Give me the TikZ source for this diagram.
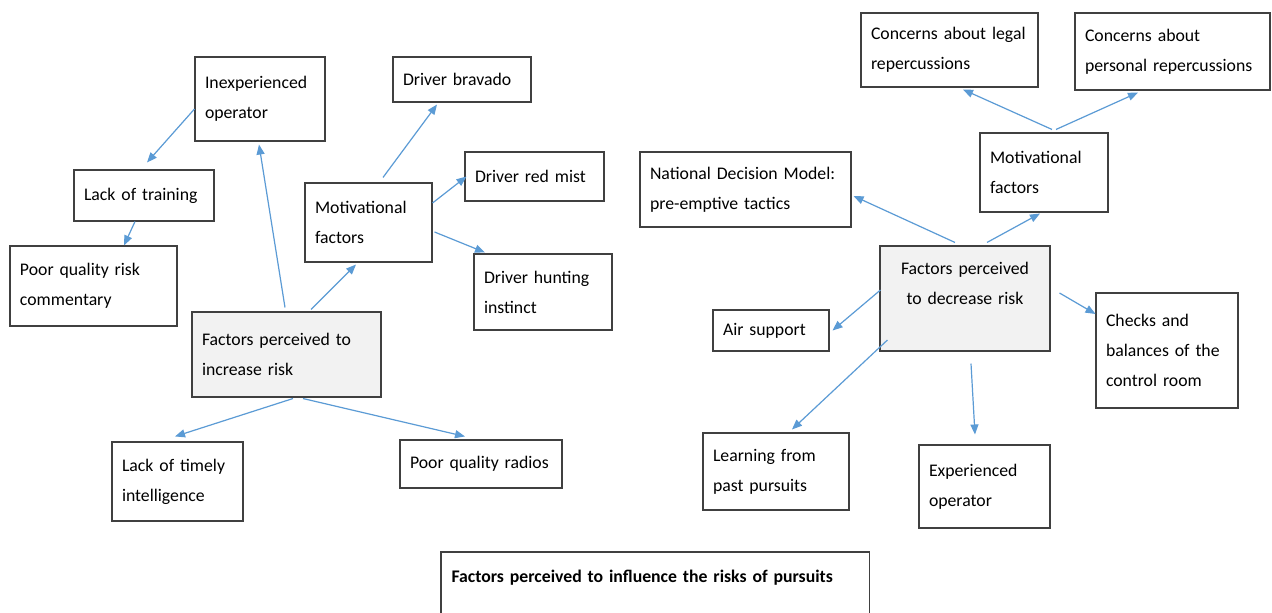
\documentclass[tikz,border=0pt]{standalone}
\usepackage{fontspec}
\setmainfont{Carlito}
\usepackage{tikz}
\usetikzlibrary{arrows.meta}
\definecolor{linkblue}{RGB}{91,155,213}
\definecolor{boxgray}{RGB}{242,242,242}
\definecolor{boxline}{RGB}{64,64,64}

\begin{document}
\begin{tikzpicture}[x=0.75pt, y=-0.75pt,
    box/.style={draw=boxline, line width=0.8pt, fill=white, inner xsep=7.5pt, inner ysep=0pt, align=left, font=\fontsize{13.3}{22.5}\selectfont},
    keybox/.style={box, fill=boxgray},
    link/.style={draw=linkblue, line width=0.9pt, -{Triangle[length=7.5pt,width=6pt]}}]
    \useasboundingbox (0,0) rectangle (1272,613);
    \clip (0,0) rectangle (1272,613);
    \fill[white] (0,0) rectangle (1272,613);

    % factors that increase risk
    \node[keybox, minimum width=141.75pt, minimum height=63.75pt, text width=126.75pt] (increase) at (286.5,354.5) {Factors perceived to\\increase risk};
    \node[box, minimum width=97.5pt, minimum height=63pt, text width=82.5pt] (inexp) at (260,99) {Inexperienced\\operator};
    \node[box, minimum width=105pt, minimum height=38.25pt, text width=90pt] (training) at (144,195.5) {Lack of training};
    \node[box, minimum width=125.25pt, minimum height=60pt, text width=110.25pt] (commentary) at (93.5,286) {Poor quality risk\\commentary};
    \node[box, minimum width=95.25pt, minimum height=59.25pt, text width=80.25pt] (motivL) at (368.5,222.5) {Motivational\\factors};
    \node[box, minimum width=103.5pt, minimum height=33.75pt, text width=88.5pt] (bravado) at (462,79.5) {Driver bravado};
    \node[box, minimum width=104.25pt, minimum height=36.75pt, text width=89.25pt] (redmist) at (534.5,176.5) {Driver red mist};
    \node[box, minimum width=103.5pt, minimum height=57pt, text width=88.5pt] (hunting) at (543,292) {Driver hunting\\instinct};
    \node[box, minimum width=98.25pt, minimum height=59.25pt, text width=83.25pt] (intel) at (177.5,481.5) {Lack of timely\\intelligence};
    \node[box, minimum width=121.5pt, minimum height=36pt, text width=106.5pt] (radios) at (481,464) {Poor quality radios};

    % factors that decrease risk
    \node[keybox, align=center, minimum width=127.5pt, minimum height=78.75pt, text width=112.5pt] (decrease) at (965,298.5) {Factors perceived\\to decrease risk\\~};
    \node[box, minimum width=96pt, minimum height=59.25pt, text width=81pt] (motivR) at (1044,172.5) {Motivational\\factors};
    \node[box, minimum width=132.75pt, minimum height=55.5pt, text width=117.75pt] (legal) at (949.5,50) {Concerns about legal\\repercussions};
    \node[box, minimum width=146.25pt, minimum height=57.75pt, text width=131.25pt] (personal) at (1172.5,51.5) {Concerns about\\personal repercussions};
    \node[box, minimum width=158.25pt, minimum height=56.25pt, text width=143.25pt] (ndm) at (745.5,189.5) {National Decision Model:\\pre-emptive tactics};
    \node[box, minimum width=87pt, minimum height=30.75pt, text width=72pt] (air) at (771,330.5) {Air support};
    \node[box, minimum width=106.5pt, minimum height=86.25pt, text width=91.5pt] (checks) at (1167,350.5) {Checks and\\balances of the\\control room};
    \node[box, minimum width=109.5pt, minimum height=57.75pt, text width=94.5pt] (learning) at (776,471.5) {Learning from\\past pursuits};
    \node[box, minimum width=98.25pt, minimum height=62.25pt, text width=83.25pt] (experienced) at (984.5,486.5) {Experienced\\operator};

    % caption
    \node[box, draw=none, fill=none, anchor=north west, font=\fontsize{13.3}{22.5}\selectfont\bfseries, minimum width=320.25pt, minimum height=37.5pt, text width=305.25pt] (caption) at (441,552) {Factors perceived to influence the risks of pursuits};
    \draw[boxline, line width=0.8pt] ([shift={(0,15)}]caption.south west) -- (caption.north west) -- (caption.north east) -- ([shift={(0,15)}]caption.south east);

    % links, increase side
    \draw[link] ([shift={(0,10)}]inexp.west) -- ([shift={(3,-7)}]training.north);
    \draw[link] ([shift={(-9,0)}]training.south) -- ([shift={(30.5,0)}]commentary.north);
    \draw[link] ([shift={(-1.5,-4)}]increase.north) -- ([shift={(-1,3)}]inexp.south);
    \draw[link] ([shift={(24.5,-2)}]increase.north) -- ([shift={(-12.5,2)}]motivL.south);
    \draw[link] ([shift={(14.5,-5)}]motivL.north) -- ([shift={(-25,2)}]bravado.south);
    \draw[link] ([shift={(0,-19.5)}]motivL.east) -- ([shift={(2,0)}]redmist.west);
    \draw[link] ([shift={(2,9.5)}]motivL.east) -- ([shift={(-58,-1)}]hunting.north);
    \draw[link] ([shift={(6.5,1)}]increase.south) -- ([shift={(-2.5,-5)}]intel.north);
    \draw[link] ([shift={(16.5,1)}]increase.south) -- ([shift={(-16,-3)}]radios.north);

    % links, decrease side
    \draw[link] ([shift={(8,-3)}]motivR.north) -- ([shift={(13.5,2)}]legal.south);
    \draw[link] ([shift={(12,-3)}]motivR.north) -- ([shift={(-34.5,2)}]personal.south);
    \draw[link] ([shift={(-10,-3)}]decrease.north) -- ([shift={(2,6.5)}]ndm.east);
    \draw[link] ([shift={(22,-3)}]decrease.north) -- ([shift={(-4,1)}]motivR.south);
    \draw[link] ([shift={(1,-8.5)}]decrease.west) -- ([shift={(3,0)}]air.east);
    \draw[link] ([shift={(9,-5.5)}]decrease.east) -- ([shift={(0,-36.5)}]checks.west);
    \draw[link] ([shift={(8,41.5)}]decrease.west) -- ([shift={(16,-3)}]learning.north);
    \draw[link] ([shift={(6,12)}]decrease.south) -- ([shift={(-9.5,-10)}]experienced.north);
\end{tikzpicture}
\end{document}
